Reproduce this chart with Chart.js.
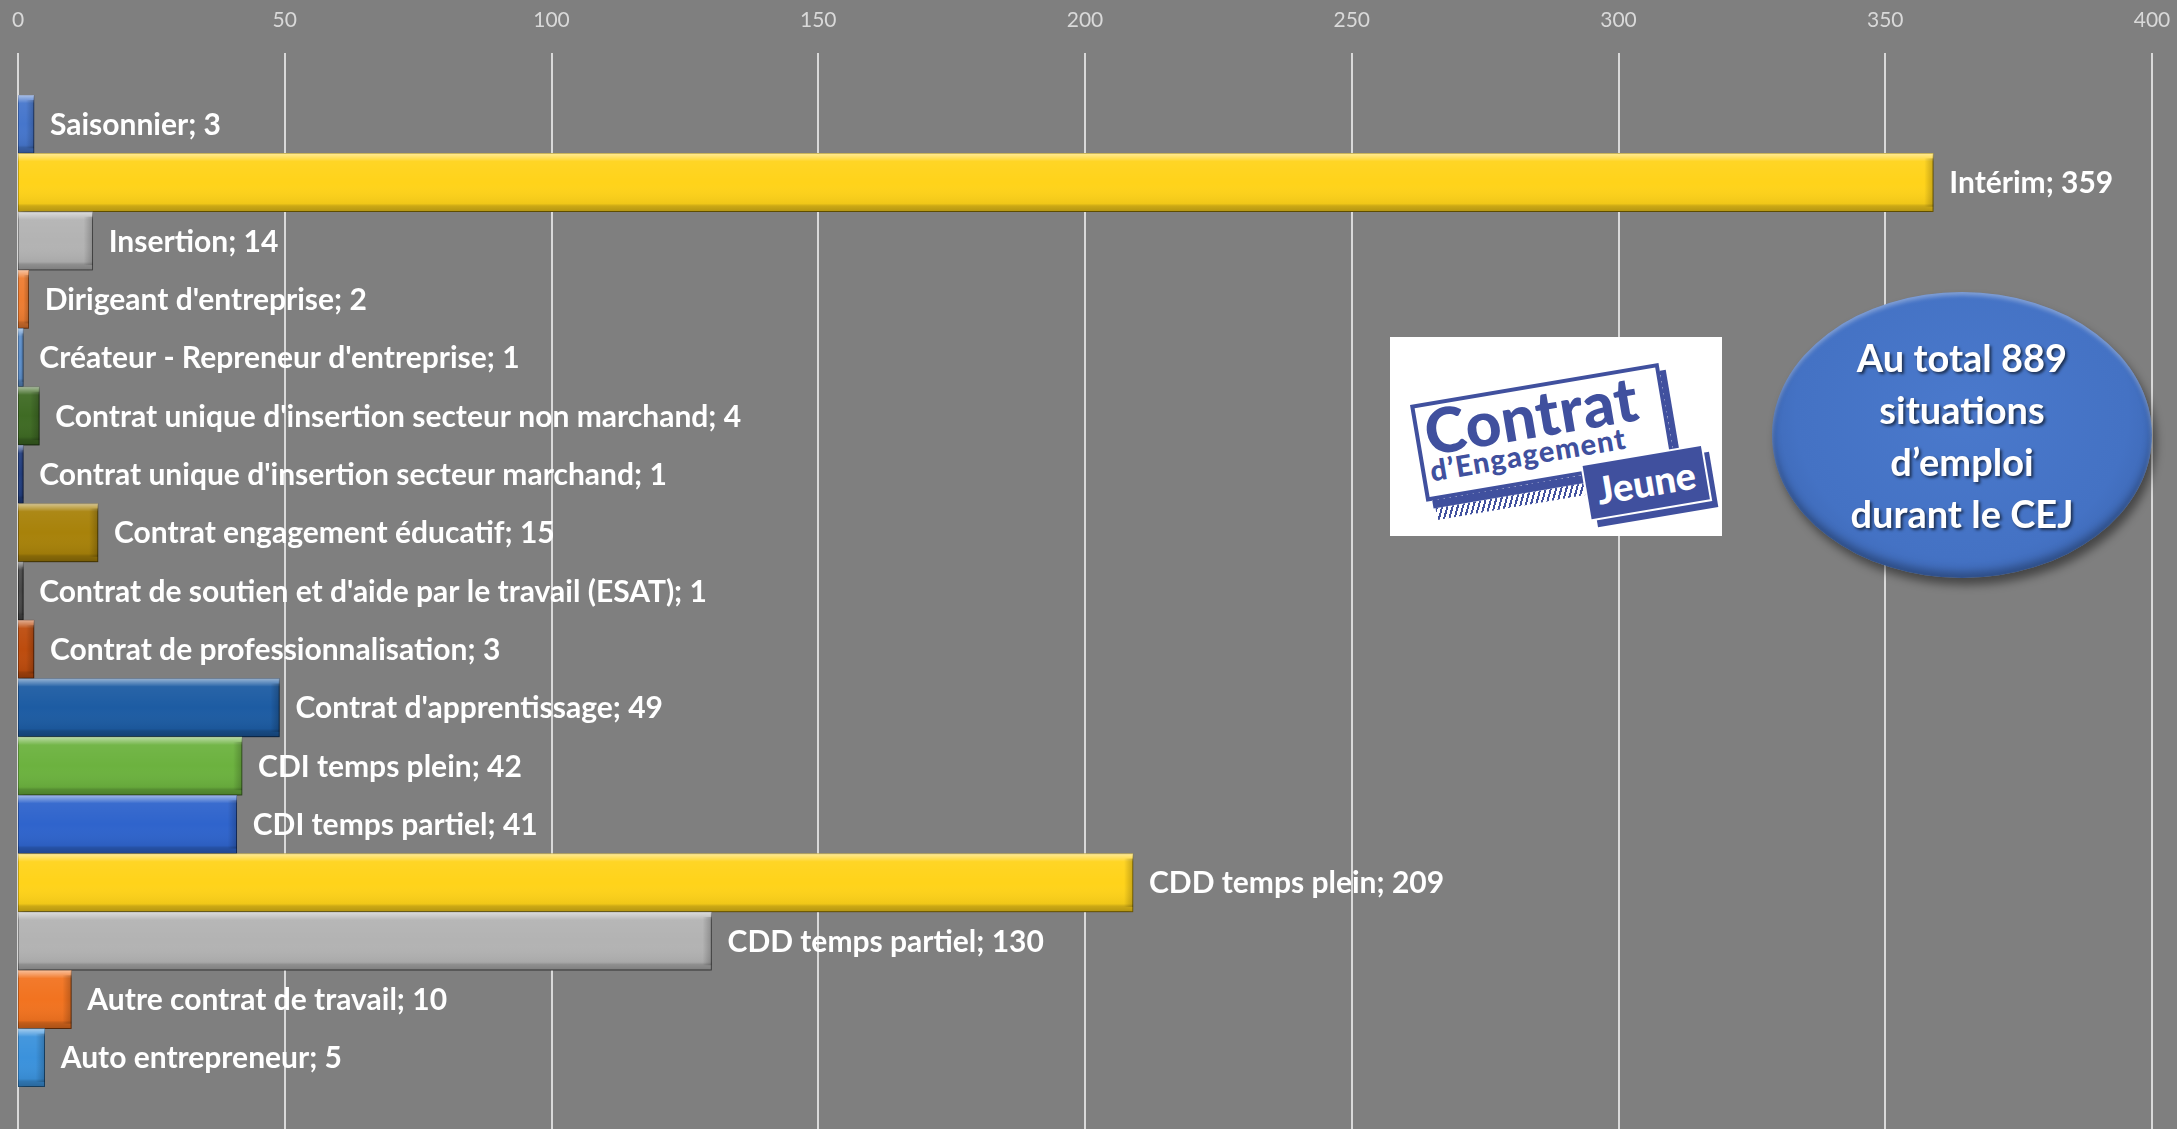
<!DOCTYPE html>
<html lang="fr">
<head>
<meta charset="utf-8">
<title>Situations d'emploi durant le CEJ</title>
<script src="https://cdn.jsdelivr.net/npm/chart.js@4.4.1/dist/chart.umd.min.js"></script>
<style>
  html, body { margin: 0; padding: 0; background: #7f7f7f; overflow: hidden; }
  #wrap { position: relative; width: 2177px; height: 1129px; }
  #logo {
    position: absolute; left: 1390px; top: 337px; width: 332px; height: 199px;
    background: #fff; overflow: hidden;
  }
  #logo .tilt {
    position: absolute; left: 20px; top: 68px; width: 300px; height: 160px;
    transform: rotate(-9.6deg); transform-origin: 0 0;
    font-family: Lato, sans-serif; color: #40509e;
  }
  #logo .frame {
    position: absolute; left: 0; top: 0; width: 252px; height: 98px;
    border: 4px solid #40509e; box-shadow: 6px 8px 0 #40509e; box-sizing: border-box;
  }
  #logo .c1 { position: absolute; left: 10px; top: -2px; font-weight: 900; font-size: 62px; line-height: 1; letter-spacing: 0.5px; }
  #logo .c2 { position: absolute; left: 9px; top: 53px; font-weight: 900; font-size: 29px; line-height: 1; letter-spacing: 1.2px; }
  #logo .jeune {
    position: absolute; left: 160px; top: 89px; width: 120px; height: 54px;
    background: #40509e; color: #fff; font-weight: 900; font-size: 38px;
    line-height: 52px; text-align: center; box-shadow: 0 0 0 2px #fff, 6px 8px 0 1px #40509e;
  }
  #logo .hatch {
    position: absolute; left: 8px; top: 106px; width: 150px; height: 12px;
    background: repeating-linear-gradient(115deg, #40509e 0 2px, transparent 2px 5px);
  }
  #bubble {
    position: absolute; left: 1772px; top: 292px; width: 380px; height: 286px;
    border-radius: 50%;
    background: radial-gradient(ellipse at 50% 42%, #4a79cc 0%, #4472c4 62%, #3a63ad 86%, #284a86 100%);
    box-shadow: 4px 7px 10px rgba(0,0,0,0.45), inset 0 3px 4px rgba(255,255,255,0.35), inset 0 -6px 8px rgba(0,0,0,0.3);
    display: flex; align-items: center; justify-content: center; text-align: center;
    font-family: Lato, sans-serif; font-weight: 700; font-size: 38px; line-height: 52px;
    color: #fff; text-shadow: 2px 2px 3px rgba(0,0,0,0.6);
  }
</style>
</head>
<body>
<div id="wrap">
  <canvas id="chart"></canvas>
  <div id="logo">
    <div class="tilt">
      <div class="hatch"></div>
      <div class="frame"></div>
      <div class="c1">Contrat</div>
      <div class="c2">d’Engagement</div>
      <div class="jeune">Jeune</div>
    </div>
  </div>
  <div id="bubble"><div id="bubbleText"></div></div>
</div>
<script>
// Données : type de contrat et nombre de situations
const categories = [
  'Saisonnier',
  'Intérim',
  'Insertion',
  "Dirigeant d'entreprise",
  "Créateur - Repreneur d'entreprise",
  "Contrat unique d'insertion secteur non marchand",
  "Contrat unique d'insertion secteur marchand",
  'Contrat engagement éducatif',
  "Contrat de soutien et d'aide par le travail (ESAT)",
  'Contrat de professionnalisation',
  "Contrat d'apprentissage",
  'CDI temps plein',
  'CDI temps partiel',
  'CDD temps plein',
  'CDD temps partiel',
  'Autre contrat de travail',
  'Auto entrepreneur'
];
const situations = [3, 359, 14, 2, 1, 4, 1, 15, 1, 3, 49, 42, 41, 209, 130, 10, 5];
const axisMin = 0;
const axisMax = 400;
const axisStep = 50;

// Couleurs des barres
const barColors = [
  '#4676cc', '#ffd31a', '#b3b3b3', '#ee7d32', '#5d8fca', '#3f6b24',
  '#233f80', '#a8820a', '#4a4a4a', '#bd4c0e', '#1d5ca3', '#6cb23f',
  '#2f64cc', '#ffd31a', '#b3b3b3', '#f27320', '#3b92dc'
];
const borderColors = [
  '#2c4f94', '#b89600', '#6e6e6e', '#a9561f', '#3d6391', '#284816',
  '#14285a', '#6f5605', '#2b2b2b', '#7e3008', '#103c70', '#4a7c2a',
  '#1d418a', '#b89600', '#6e6e6e', '#a44c12', '#25669e'
];

const total = situations.reduce((a, b) => a + b, 0);
document.getElementById('bubbleText').innerHTML =
  'Au total ' + total + '<br>situations<br>d’emploi<br>durant le CEJ';

const GRID_TOP = 53;

// Grille verticale qui déborde de la zone du graphique
const fullGrid = {
  id: 'fullGrid',
  beforeDatasetsDraw(chart) {
    const sx = chart.scales.x;
    const ctx = chart.ctx;
    ctx.save();
    ctx.strokeStyle = '#d9d9d9';
    ctx.lineWidth = 2;
    sx.ticks.forEach(t => {
      const px = Math.round(sx.getPixelForValue(t.value));
      ctx.beginPath();
      ctx.moveTo(px, GRID_TOP);
      ctx.lineTo(px, chart.height);
      ctx.stroke();
    });
    ctx.restore();
  }
};

// Ombre portée des barres
const barShadow = {
  id: 'barShadow',
  beforeDatasetDraw(chart) {
    const ctx = chart.ctx;
    ctx.save();
    ctx.shadowColor = 'rgba(0,0,0,0.45)';
    ctx.shadowBlur = 6;
    ctx.shadowOffsetX = 2;
    ctx.shadowOffsetY = 3;
  },
  afterDatasetDraw(chart) {
    chart.ctx.restore();
  }
};

// Effet biseau + étiquettes "Catégorie; valeur"
const bevelAndLabels = {
  id: 'bevelAndLabels',
  afterDatasetsDraw(chart) {
    const ctx = chart.ctx;
    const meta = chart.getDatasetMeta(0);
    meta.data.forEach((bar, i) => {
      const p = bar.getProps(['x', 'y', 'base', 'height'], true);
      const left = Math.min(p.base, p.x);
      const right = Math.max(p.base, p.x);
      const top = p.y - p.height / 2;
      const w = right - left;

      ctx.save();
      const g = ctx.createLinearGradient(0, top, 0, top + p.height);
      g.addColorStop(0, 'rgba(255,255,255,0.55)');
      g.addColorStop(0.1, 'rgba(255,255,255,0.2)');
      g.addColorStop(0.14, 'rgba(255,255,255,0.05)');
      g.addColorStop(0.5, 'rgba(255,255,255,0)');
      g.addColorStop(0.86, 'rgba(0,0,0,0.06)');
      g.addColorStop(0.9, 'rgba(0,0,0,0.2)');
      g.addColorStop(1, 'rgba(0,0,0,0.3)');
      ctx.fillStyle = g;
      ctx.fillRect(left, top, w, p.height);

      // bord droit biseauté
      const bw = Math.min(9, w / 2);
      if (bw > 1) {
        const gr = ctx.createLinearGradient(right - bw, 0, right, 0);
        gr.addColorStop(0, 'rgba(0,0,0,0)');
        gr.addColorStop(1, 'rgba(0,0,0,0.22)');
        ctx.fillStyle = gr;
        ctx.fillRect(right - bw, top + 5, bw, p.height - 10);
      }
      ctx.restore();

      ctx.save();
      ctx.font = 'bold 30px Lato, "Open Sans", sans-serif';
      ctx.fillStyle = '#ffffff';
      ctx.textBaseline = 'middle';
      ctx.textAlign = 'left';
      ctx.fillText(categories[i] + '; ' + situations[i], right + 16, p.y + 1);
      ctx.restore();
    });
  }
};

const canvas = document.getElementById('chart');
canvas.width = 2177;
canvas.height = 1129;
const ctx = canvas.getContext('2d');

new Chart(ctx, {
  type: 'bar',
  data: {
    labels: categories,
    datasets: [{
      label: 'Situations',
      data: situations,
      backgroundColor: barColors,
      borderColor: borderColors,
      borderWidth: 1,
      borderSkipped: false,
      categoryPercentage: 1,
      barPercentage: 1
    }]
  },
  options: {
    indexAxis: 'y',
    responsive: false,
    animation: false,
    layout: { padding: { left: 18, right: 25, top: 0, bottom: 42 } },
    scales: {
      x: {
        position: 'top',
        min: axisMin,
        max: axisMax,
        grid: { display: false },
        border: { display: false },
        ticks: {
          stepSize: axisStep,
          color: '#d9d9d9',
          font: { family: 'Lato, sans-serif', size: 21 },
          padding: 54
        },
        afterFit(scale) {
          scale.height = 95;
          scale.paddingLeft = 0;
          scale.paddingRight = 0;
        }
      },
      y: {
        display: false,
        grid: { display: false }
      }
    },
    plugins: {
      legend: { display: false },
      title: { display: false },
      tooltip: { enabled: false }
    }
  },
  plugins: [fullGrid, barShadow, bevelAndLabels]
});
</script>
</body>
</html>
